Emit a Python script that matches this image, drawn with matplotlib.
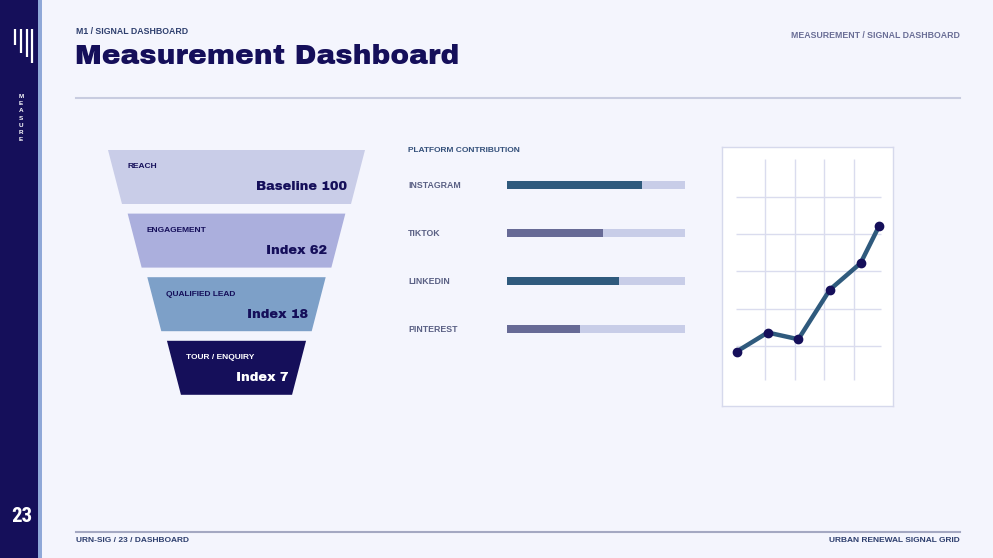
import numpy as np
import matplotlib.pyplot as plt
from matplotlib.patches import Polygon, Rectangle

# funnel stages
stages = ['REACH', 'ENGAGEMENT', 'QUALIFIED LEAD', 'TOUR / ENQUIRY']
stage_values = ['Baseline 100', 'Index 62', 'Index 18', 'Index 7']

# platform contribution (% of track)
platforms = ['INSTAGRAM', 'TIKTOK', 'LINKEDIN', 'PINTEREST']
platform_share = [76, 54, 63, 41]

# trend line
trend_x = [0.04, 1.09, 2.13, 3.2, 4.24, 4.87]
trend_y = [0.85, 1.36, 1.18, 2.51, 3.22, 4.22]

BG = '#F4F5FD'
NAVY = '#150F5A'
TEAL = '#2F5A7D'
SLATE = '#676A96'
TRACK = '#C8CDE8'
stage_colors = ['#C9CDE8', '#ABAFDD', '#7DA0C8', '#150F5A']

plt.rcParams['font.family'] = 'Liberation Sans'
FONT = 'Liberation Sans'
HEAVY = 'Archivo Black'

W, H = 993, 558
fig = plt.figure(figsize=(W / 100, H / 100), dpi=100, facecolor=BG)
bg = fig.add_axes([0, 0, 1, 1])
bg.set_xlim(0, W)
bg.set_ylim(H, 0)
bg.axis('off')
bg.set_facecolor(BG)


def px_rect(x0, y0, x1, y1):
    return [x0 / W, 1 - y1 / H, (x1 - x0) / W, (y1 - y0) / H]


def label(ax, x, y, s, size, color, **kw):
    ax.text(x, y, s, color=color, fontsize=size, family=FONT, fontweight='bold', va='center', **kw)


# sidebar
bg.add_patch(Rectangle((0, 0), 38, H, color=NAVY, lw=0))
bg.add_patch(Rectangle((38, 0), 4, H, color='#8FA8D8', lw=0))
for lx, lb in zip([15, 21, 27, 32], [45, 53, 57, 63]):
    bg.plot([lx, lx], [29, lb], color='white', lw=1.6, solid_capstyle='butt')
label(bg, 21, 118, '\n'.join('MEASURE'), 4.6, 'white', ha='center', linespacing=1.55)
bg.text(22, 517, '23', color='white', fontsize=15, family='Roboto Condensed',
        fontweight='bold', ha='center', va='center')

# header
label(bg, 76, 32, 'M1 / SIGNAL DASHBOARD', 6.3, '#2E3F6E')
bg.text(75, 57, 'Measurement Dashboard', color=NAVY, fontsize=20.3, family=HEAVY, va='center')
label(bg, 960, 35, 'MEASUREMENT / SIGNAL DASHBOARD', 6.3, '#6A6E96', ha='right')
bg.plot([76, 960], [98, 98], color='#C8CCE0', lw=1.5)

# footer
bg.plot([76, 960], [532, 532], color='#A4A8C2', lw=1.5)
label(bg, 76, 541, 'URN-SIG / 23 / DASHBOARD', 6, '#2E3F6E')
label(bg, 960, 541, 'URBAN RENEWAL SIGNAL GRID', 6, '#2E3F6E', ha='right')

# funnel
cx, top0, step, h = 236.5, 150, 63.6, 54
for i, (name, val, col) in enumerate(zip(stages, stage_values, stage_colors)):
    tw = 257 - 39.3 * i
    bw = tw - 28
    y0 = top0 + step * i
    y1 = y0 + h
    bg.add_patch(Polygon([(cx - tw / 2, y0), (cx + tw / 2, y0), (cx + bw / 2, y1), (cx - bw / 2, y1)],
                         closed=True, color=col, lw=0))
    tc = 'white' if i == len(stages) - 1 else NAVY
    label(bg, cx - tw / 2 + 19, y0 + 17, name, 6, tc)
    bg.text(cx + tw / 2 - 18, y0 + 37.5, val, color=tc, fontsize=9.3, family=HEAVY,
            ha='right', va='center')

# platform bars
label(bg, 408, 151, 'PLATFORM CONTRIBUTION', 6, '#34507A')
axb = fig.add_axes(px_rect(507, 161, 685, 353))
axb.set_xlim(0, 100)
axb.set_ylim(len(platforms) - 0.5, -0.5)
axb.axis('off')
ypos = np.arange(len(platforms))
axb.barh(ypos, [100] * len(platforms), height=0.17, color=TRACK, lw=0)
axb.barh(ypos, platform_share, height=0.17, color=[TEAL, SLATE, TEAL, SLATE], lw=0)
for i, name in enumerate(platforms):
    label(axb, -99 / 178 * 100, i, name, 6.3, '#5A6084', ha='left', clip_on=False)

# trend chart
axl = fig.add_axes(px_rect(722, 147, 893, 406))
axl.set_facecolor('white')
for s in axl.spines.values():
    s.set_color('#D6D9EC')
    s.set_linewidth(1)
axl.set_xticks([])
axl.set_yticks([])
axl.set_xlim(-0.458, 5.339)
axl.set_ylim(-0.61, 6.335)
axl.hlines([1, 2, 3, 4, 5], 0, 4.93, color='#DADCEE', lw=1)
axl.vlines([1, 2, 3, 4], 0.09, 6.0, color='#DADCEE', lw=1)
axl.plot(trend_x, trend_y, color=TEAL, lw=3.2, solid_capstyle='round', zorder=3)
axl.plot(trend_x, trend_y, 'o', color=NAVY, ms=6, zorder=4)

fig.savefig('out.png', dpi=100, facecolor=BG)
